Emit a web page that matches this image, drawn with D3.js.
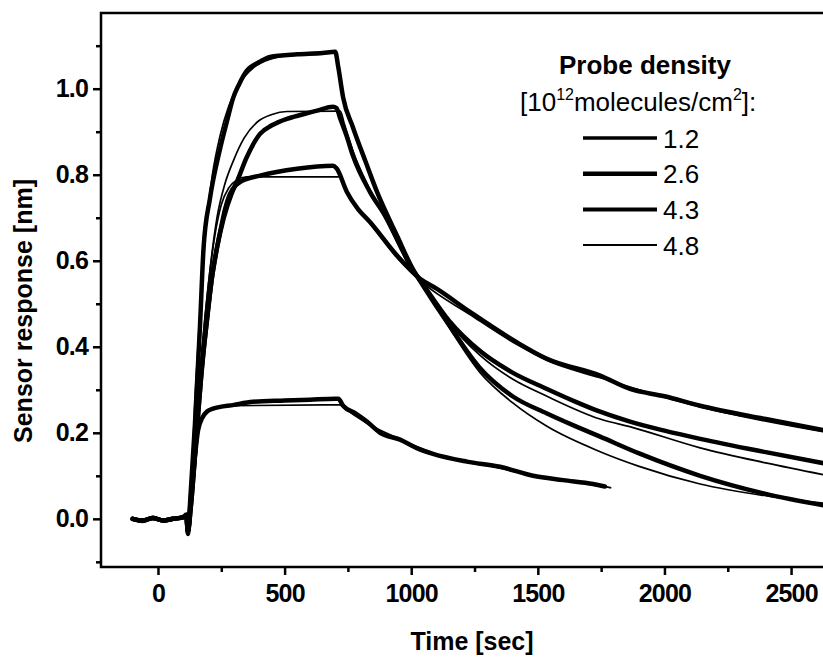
<!DOCTYPE html>
<html>
<head>
<meta charset="utf-8">
<script src="https://cdn.jsdelivr.net/npm/d3@7"></script>
<style>
	body { margin: 0; background: #fff; }
	svg { display: block; font-family: "Liberation Sans", Arial, sans-serif; }
	.axis text { font-size: 25px; font-weight: bold; fill: #000; letter-spacing: -0.8px; }
	.axis line { stroke: #000; stroke-width: 2.5; }
	.axis path { display: none; }
	.title { font-size: 25px; font-weight: bold; }
	.legend text { font-size: 26px; }
</style>
</head>
<body>
<div id="chart"></div>
<script>

var curve_a = [[-100,0],[-60,-0.005],[-20,0.002],[20,-0.004],[60,0],[100,0.004],[112,0.01],[118,-0.035],[128,0.05],[146,0.22],[166,0.45],[180,0.63],[205,0.744],[245,0.86],[275,0.93],[296,0.977],[320,1.01],[351,1.042],[400,1.062],[442,1.074],[550,1.08],[650,1.083],[700,1.086],[712,1.05],[731,0.98],[770,0.91],[820,0.83],[865,0.76],[944,0.658],[1007,0.58],[1047,0.542],[1150,0.45],[1272,0.35],[1400,0.285],[1536,0.245],[1650,0.215],[1746,0.191],[1900,0.152],[2141,0.10],[2400,0.058],[2640,0.03]];

var curve_b = [[-100,0],[-60,-0.004],[-20,0.002],[20,-0.004],[60,0],[100,0.004],[112,0.008],[118,-0.03],[130,0.03],[154,0.21],[175,0.36],[193,0.46],[213,0.56],[233,0.63],[260,0.70],[290,0.755],[312,0.784],[350,0.84],[403,0.895],[450,0.915],[509,0.93],[570,0.94],[628,0.949],[691,0.958],[705,0.955],[720,0.93],[745,0.89],[770,0.844],[837,0.76],[904,0.698],[950,0.645],[995,0.59],[1047,0.545],[1150,0.46],[1272,0.39],[1400,0.34],[1536,0.302],[1650,0.272],[1746,0.249],[1864,0.226],[2000,0.205],[2141,0.186],[2400,0.155],[2640,0.128]];

var curve_c = [[-100,0],[-60,-0.004],[-20,0.002],[20,-0.004],[60,0],[100,0.004],[112,0.008],[118,-0.03],[130,0.03],[154,0.21],[175,0.36],[193,0.46],[213,0.56],[233,0.63],[250,0.68],[265,0.72],[284,0.755],[330,0.785],[403,0.798],[549,0.814],[691,0.821],[705,0.815],[746,0.76],[790,0.72],[837,0.69],[944,0.612],[1035,0.558],[1100,0.535],[1232,0.481],[1418,0.41],[1536,0.372],[1746,0.333],[1864,0.302],[2000,0.285],[2141,0.263],[2400,0.232],[2640,0.205]];

var curve_d = [[-100,0],[-60,-0.004],[-20,0.002],[20,-0.004],[60,0],[100,0.004],[112,0.008],[118,-0.03],[130,0.05],[145,0.14],[158,0.205],[175,0.235],[195,0.25],[217,0.256],[300,0.265],[375,0.272],[500,0.275],[600,0.277],[700,0.279],[712,0.279],[731,0.263],[780,0.245],[825,0.226],[877,0.2],[956,0.184],[1020,0.165],[1086,0.151],[1220,0.133],[1351,0.121],[1481,0.1],[1600,0.09],[1718,0.081],[1765,0.075]];

// fitted curves
var fit_a = [[118,0],[130,0.08],[150,0.32],[170,0.52],[190,0.68],[215,0.80],[245,0.89],[280,0.96],[320,1.01],[380,1.05],[450,1.07],[550,1.08],[700,1.084],[712,1.05],[731,0.98],[770,0.91],[820,0.83],[870,0.755],[944,0.655],[1000,0.59],[1047,0.545],[1150,0.445],[1272,0.34],[1400,0.27],[1536,0.215],[1746,0.156],[1900,0.122],[2141,0.081],[2405,0.053],[2650,0.035]];
var fit_b = [[118,0],[130,0.06],[154,0.24],[175,0.40],[200,0.55],[233,0.70],[265,0.78],[296,0.83],[340,0.885],[391,0.922],[450,0.94],[509,0.947],[720,0.948],[735,0.92],[770,0.855],[837,0.765],[904,0.69],[995,0.585],[1047,0.54],[1150,0.455],[1272,0.38],[1400,0.325],[1536,0.285],[1746,0.232],[1876,0.212],[2141,0.165],[2400,0.13],[2650,0.1]];
var fit_c = [[118,0],[130,0.06],[154,0.24],[175,0.40],[200,0.55],[225,0.66],[250,0.73],[280,0.77],[310,0.787],[350,0.795],[720,0.795],[746,0.76],[837,0.688],[944,0.607],[1047,0.548],[1232,0.475],[1418,0.405],[1536,0.368],[1746,0.328],[2141,0.26],[2650,0.2]];
var fit_d = [[118,0],[130,0.06],[145,0.15],[160,0.21],[180,0.24],[217,0.256],[300,0.263],[720,0.265],[735,0.258],[825,0.222],[956,0.185],[1086,0.152],[1220,0.132],[1351,0.118],[1481,0.1],[1718,0.08],[1790,0.072]];

// legend
var legend_labels = ["1.2", "2.6", "4.3", "4.8"];
var legend_widths = [3.5, 4.5, 4, 2];

// ticks
var x_major = [0, 500, 1000, 1500, 2000, 2500],
	x_minor = [250, 750, 1250, 1750, 2250],
	y_major = [0, 0.2, 0.4, 0.6, 0.8, 1.0],
	y_minor = [-0.1, 0.1, 0.3, 0.5, 0.7, 0.9, 1.1];

// magic numbers
var margin = {top: 13, left: 101},
	width = 723,
	height = 554;

var svg = d3.select("#chart").append("svg")
		.attr("width", 823)
		.attr("height", 657);

var g = svg.append("g")
		.attr("transform", "translate(" + margin.left + "," + margin.top + ")");

var x = d3.scaleLinear()
		.domain([-225, 2630])
		.range([0, width]);

var y = d3.scaleLinear()
		.domain([-0.112, 1.176])
		.range([height, 0]);

g.append("clipPath")
		.attr("id", "clip")
	.append("rect")
		.attr("width", width)
		.attr("height", height);

// axes
g.append("g")
		.attr("class", "axis")
		.attr("transform", "translate(0," + height + ")")
		.call(d3.axisBottom(x).tickValues(x_major).tickSize(8).tickPadding(9).tickFormat(d3.format("d")));

g.append("g")
		.attr("class", "axis")
		.attr("transform", "translate(0," + height + ")")
		.call(d3.axisBottom(x).tickValues(x_minor).tickSize(5).tickFormat(""));

g.append("g")
		.attr("class", "axis")
		.call(d3.axisLeft(y).tickValues(y_major).tickSize(8).tickPadding(5).tickFormat(d3.format(".1f")));

g.append("g")
		.attr("class", "axis")
		.call(d3.axisLeft(y).tickValues(y_minor).tickSize(5).tickFormat(""));

// frame (right side runs off the picture)
g.append("path")
		.attr("d", "M" + (width + 5) + ",0H0V" + height + "H" + (width + 5))
		.attr("fill", "none")
		.attr("stroke", "#000")
		.attr("stroke-width", 2.5);

var line = d3.line()
		.x(function(d){ return x(d[0]); })
		.y(function(d){ return y(d[1]); })
		.curve(d3.curveMonotoneX);

var plot = g.append("g")
		.attr("clip-path", "url(#clip)");

plot.selectAll(".data-line")
		.data([curve_d, curve_c, curve_b, curve_a])
	.enter().append("path")
		.attr("class", "data-line")
		.attr("d", line)
		.attr("fill", "none")
		.attr("stroke", "#000")
		.attr("stroke-width", 4.5)
		.attr("stroke-linejoin", "round")
		.attr("stroke-linecap", "round");

plot.selectAll(".fit-line")
		.data([fit_d, fit_c, fit_b, fit_a])
	.enter().append("path")
		.attr("class", "fit-line")
		.attr("d", line)
		.attr("fill", "none")
		.attr("stroke", "#000")
		.attr("stroke-width", 1.7);

// axis titles
svg.append("text")
		.attr("class", "title")
		.attr("x", 472)
		.attr("y", 650)
		.attr("text-anchor", "middle")
		.text("Time [sec]");

svg.append("text")
		.attr("class", "title")
		.attr("transform", "translate(32,311) rotate(-90)")
		.attr("text-anchor", "middle")
		.text("Sensor response [nm]");

// legend
var legend = svg.append("g")
		.attr("class", "legend");

legend.append("text")
		.attr("x", 645)
		.attr("y", 74)
		.attr("text-anchor", "middle")
		.style("font-weight", "bold")
		.text("Probe density");

var unit = legend.append("text")
		.attr("x", 520)
		.attr("y", 111);
unit.append("tspan").text("[10");
unit.append("tspan").attr("dy", -11).style("font-size", "16px").text("12");
unit.append("tspan").attr("dy", 11).text("molecules/cm");
unit.append("tspan").attr("dy", -11).style("font-size", "16px").text("2");
unit.append("tspan").attr("dy", 11).text("]:");

var entry = legend.selectAll(".entry")
		.data(legend_labels)
	.enter().append("g")
		.attr("class", "entry")
		.attr("transform", function(d, i){ return "translate(583," + (138 + i * 35.7) + ")"; });

entry.append("line")
		.attr("x2", 74)
		.attr("stroke", "#000")
		.attr("stroke-width", function(d, i){ return legend_widths[i]; });

entry.append("text")
		.attr("x", 80)
		.attr("y", 9.5)
		.text(function(d){ return d; });

</script>
</body>
</html>
